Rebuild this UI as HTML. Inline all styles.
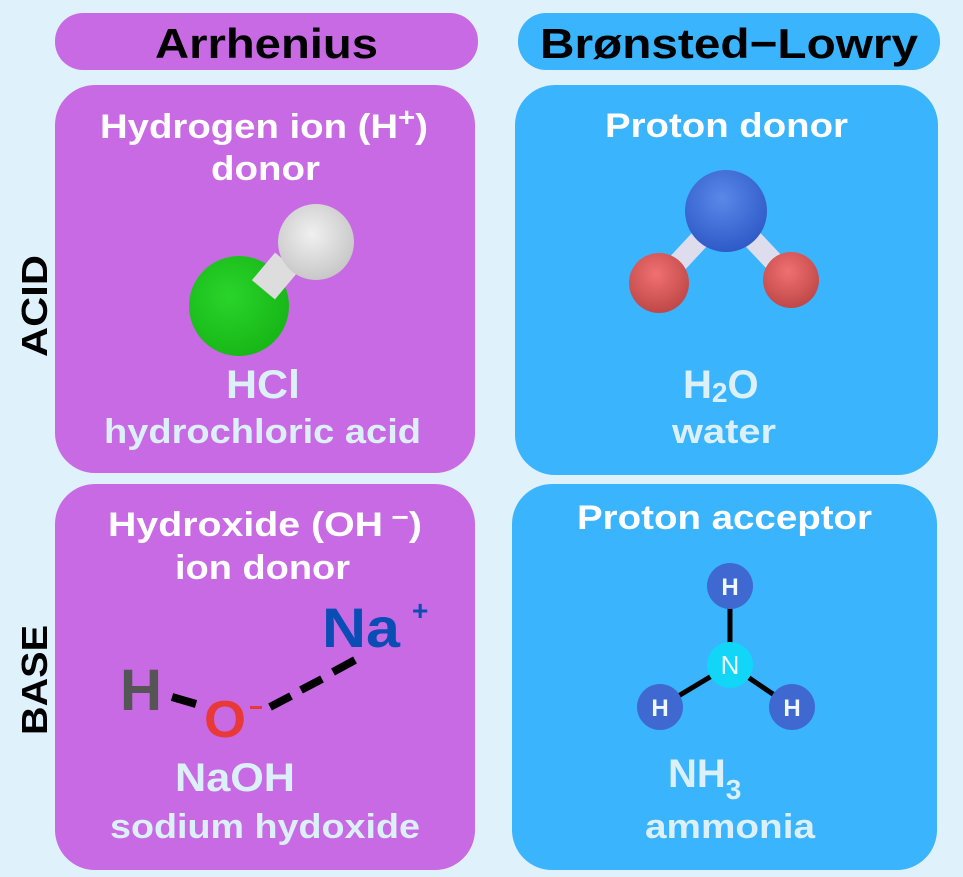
<!DOCTYPE html>
<html><head><meta charset="utf-8"><style>
html,body{margin:0;padding:0;background:#dff2fb;}
svg{display:block;font-family:"Liberation Sans",sans-serif;font-weight:bold;}
</style></head><body>
<svg width="963" height="877" viewBox="0 0 963 877" xmlns="http://www.w3.org/2000/svg">
<defs>
<radialGradient id="g" cx="0.4" cy="0.4" r="0.6"><stop offset="0" stop-color="#2ad42a"/><stop offset="1" stop-color="#18b818"/></radialGradient>
<radialGradient id="w" cx="0.45" cy="0.4" r="0.6"><stop offset="0" stop-color="#f0f0f0"/><stop offset="1" stop-color="#c8c8c8"/></radialGradient>
<radialGradient id="b" cx="0.45" cy="0.35" r="0.65"><stop offset="0" stop-color="#5a88e8"/><stop offset="1" stop-color="#2f5ac8"/></radialGradient>
<radialGradient id="r" cx="0.45" cy="0.35" r="0.65"><stop offset="0" stop-color="#f07070"/><stop offset="1" stop-color="#c04848"/></radialGradient>
</defs>
<rect width="963" height="877" fill="#dff2fb"/>
<rect x="55" y="13" width="423" height="57" rx="28" fill="#c86ae4"/>
<rect x="518" y="13" width="422" height="57" rx="28" fill="#3ab4fc"/>
<text x="155" y="58" font-size="42" textLength="223" lengthAdjust="spacingAndGlyphs" fill="#000">Arrhenius</text>
<text x="540" y="58" font-size="42" textLength="378" lengthAdjust="spacingAndGlyphs" fill="#000">Brønsted−Lowry</text>
<rect x="55" y="85" width="420" height="388" rx="40" fill="#c86ae4"/>
<rect x="515" y="85" width="423" height="390" rx="40" fill="#3ab4fc"/>
<rect x="55" y="484" width="420" height="386" rx="40" fill="#c86ae4"/>
<rect x="512" y="484" width="425" height="386" rx="40" fill="#3ab4fc"/>
<text transform="translate(47,357) rotate(-90)" font-size="36" textLength="102" lengthAdjust="spacingAndGlyphs" fill="#000">ACID</text>
<text transform="translate(47,735) rotate(-90)" font-size="36" textLength="110" lengthAdjust="spacingAndGlyphs" fill="#000">BASE</text>
<g fill="#fff" font-size="34">
<text x="100" y="138" textLength="328" lengthAdjust="spacingAndGlyphs">Hydrogen ion (H<tspan font-size="26" dy="-12">+</tspan><tspan dy="12">)</tspan></text>
<text x="211" y="180" textLength="109" lengthAdjust="spacingAndGlyphs">donor</text>
<text x="605" y="137" textLength="243" lengthAdjust="spacingAndGlyphs">Proton donor</text>
<text x="108" y="536" textLength="314" lengthAdjust="spacingAndGlyphs">Hydroxide (OH<tspan font-size="26" dy="-10"> −</tspan><tspan dy="10">)</tspan></text>
<text x="175" y="579" textLength="175" lengthAdjust="spacingAndGlyphs">ion donor</text>
<text x="577" y="529" textLength="295" lengthAdjust="spacingAndGlyphs">Proton acceptor</text>
</g>
<g fill="#dcf0fa">
<text x="226" y="398" font-size="40" textLength="74" lengthAdjust="spacingAndGlyphs">HCl</text>
<text x="104" y="443" font-size="34" textLength="317" lengthAdjust="spacingAndGlyphs">hydrochloric acid</text>
<text x="683" y="398" font-size="40">H<tspan font-size="28" dy="4">2</tspan><tspan dy="-4">O</tspan></text>
<text x="672" y="443" font-size="34" textLength="104" lengthAdjust="spacingAndGlyphs">water</text>
<text x="175" y="791" font-size="40" textLength="120" lengthAdjust="spacingAndGlyphs">NaOH</text>
<text x="110" y="838" font-size="34" textLength="310" lengthAdjust="spacingAndGlyphs">sodium hydoxide</text>
<text x="668" y="787" font-size="40">NH<tspan font-size="28" dy="12">3</tspan></text>
<text x="645" y="838" font-size="34" textLength="170" lengthAdjust="spacingAndGlyphs">ammonia</text>
</g>
<!-- HCl -->
<circle cx="239" cy="306" r="50" fill="url(#g)"/>
<rect x="260" y="258" width="30" height="36" fill="#ddd" transform="rotate(40 275 276)"/>
<circle cx="316" cy="242" r="38" fill="url(#w)"/>
<!-- water -->
<line x1="660" y1="282" x2="726" y2="211" stroke="#dde" stroke-width="20"/>
<line x1="791" y1="280" x2="726" y2="211" stroke="#dde" stroke-width="20"/>
<circle cx="726" cy="211" r="41" fill="url(#b)"/>
<circle cx="659" cy="283" r="30" fill="url(#r)"/>
<circle cx="791" cy="280" r="28" fill="url(#r)"/>
<!-- NaOH -->
<text x="120" y="710" font-size="58" fill="#555" textLength="42" lengthAdjust="spacingAndGlyphs">H</text>
<line x1="172" y1="697" x2="196" y2="704" stroke="#000" stroke-width="8"/>
<text x="204" y="737" font-size="52" fill="#e83838" textLength="42" lengthAdjust="spacingAndGlyphs">O</text>
<rect x="250" y="706" width="12" height="3" fill="#e83838"/>
<g stroke="#000" stroke-width="8">
<line x1="270" y1="707" x2="291" y2="696"/>
<line x1="301" y1="690" x2="322" y2="679"/>
<line x1="333" y1="672" x2="355" y2="660"/>
</g>
<text x="322" y="647" font-size="56" fill="#0a4db5" textLength="78" lengthAdjust="spacingAndGlyphs">Na</text>
<text x="412" y="620" font-size="28" fill="#0a4db5">+</text>
<!-- NH3 -->
<g stroke="#000" stroke-width="5">
<line x1="730" y1="586" x2="730" y2="665"/>
<line x1="660" y1="707" x2="730" y2="665"/>
<line x1="792" y1="707" x2="730" y2="665"/>
</g>
<circle cx="730" cy="586" r="23" fill="#3f68d0"/>
<circle cx="660" cy="707" r="23" fill="#3f68d0"/>
<circle cx="792" cy="707" r="23" fill="#3f68d0"/>
<circle cx="730" cy="665" r="23" fill="#12d6f8"/>
<g fill="#f0f8ff" font-size="24" text-anchor="middle">
<text x="730" y="595">H</text>
<text x="660" y="716">H</text>
<text x="792" y="716">H</text>
<text x="730" y="674" font-weight="normal" font-size="26">N</text>
</g>
</svg>
</body></html>
